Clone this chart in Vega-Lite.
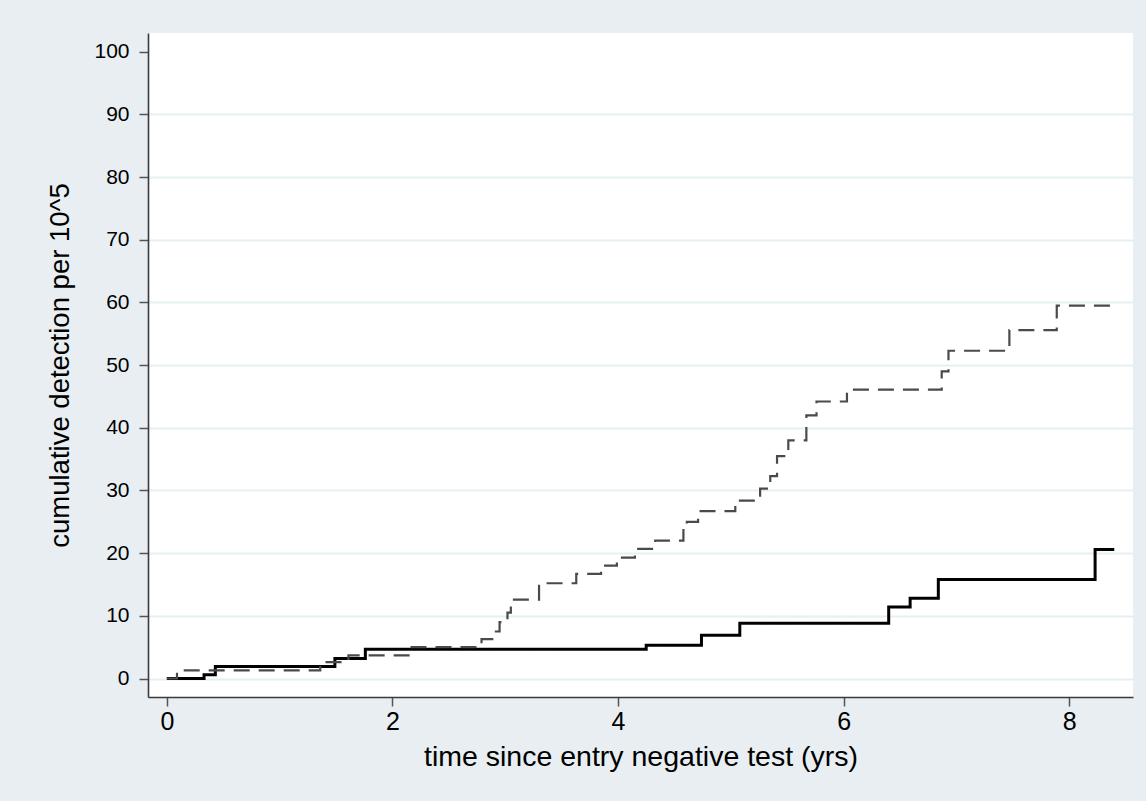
{
  "$schema": "https://vega.github.io/schema/vega-lite/v6.json",
  "autosize": {"type": "none"},
  "width": 985,
  "height": 664,
  "padding": {"left": 148, "top": 33, "right": 13, "bottom": 104},
  "background": "#e8eef1",
  "view": {"fill": "#ffffff", "stroke": null},
  "config": {
    "font": "Liberation Sans",
    "axis": {
      "labelFont": "Liberation Sans",
      "titleFont": "Liberation Sans",
      "labelColor": "#000000",
      "titleColor": "#000000",
      "titleFontWeight": "normal",
      "domainColor": "#3a3a3a",
      "domainWidth": 1.6,
      "tickColor": "#555555",
      "tickWidth": 1.5,
      "tickSize": 9
    }
  },
  "data": {
    "values": [
      {"series": "solid", "t": 0, "v": 0},
      {"series": "solid", "t": 0.33, "v": 0.6},
      {"series": "solid", "t": 0.43, "v": 1.9},
      {"series": "solid", "t": 1.49, "v": 3.2},
      {"series": "solid", "t": 1.76, "v": 4.66},
      {"series": "solid", "t": 4.25, "v": 5.3},
      {"series": "solid", "t": 4.74, "v": 6.9},
      {"series": "solid", "t": 5.08, "v": 8.8},
      {"series": "solid", "t": 6.40, "v": 11.4},
      {"series": "solid", "t": 6.59, "v": 12.8},
      {"series": "solid", "t": 6.84, "v": 15.8},
      {"series": "solid", "t": 8.23, "v": 20.6},
      {"series": "solid", "t": 8.40, "v": 20.6},
      {"series": "dashed", "t": 0, "v": 0},
      {"series": "dashed", "t": 0.09, "v": 1.3},
      {"series": "dashed", "t": 1.36, "v": 2.6},
      {"series": "dashed", "t": 1.61, "v": 3.7},
      {"series": "dashed", "t": 2.17, "v": 5.0},
      {"series": "dashed", "t": 2.79, "v": 6.3},
      {"series": "dashed", "t": 2.90, "v": 7.5},
      {"series": "dashed", "t": 2.95, "v": 9.0},
      {"series": "dashed", "t": 3.02, "v": 10.5},
      {"series": "dashed", "t": 3.05, "v": 12.6},
      {"series": "dashed", "t": 3.30, "v": 15.2},
      {"series": "dashed", "t": 3.63, "v": 16.7},
      {"series": "dashed", "t": 3.85, "v": 18.0},
      {"series": "dashed", "t": 3.99, "v": 19.3},
      {"series": "dashed", "t": 4.15, "v": 20.7},
      {"series": "dashed", "t": 4.33, "v": 22.0},
      {"series": "dashed", "t": 4.58, "v": 24.6},
      {"series": "dashed", "t": 4.61, "v": 25.0},
      {"series": "dashed", "t": 4.71, "v": 26.7},
      {"series": "dashed", "t": 5.04, "v": 28.4},
      {"series": "dashed", "t": 5.26, "v": 30.3},
      {"series": "dashed", "t": 5.35, "v": 32.3},
      {"series": "dashed", "t": 5.41, "v": 35.5},
      {"series": "dashed", "t": 5.51, "v": 38.0},
      {"series": "dashed", "t": 5.67, "v": 42.0},
      {"series": "dashed", "t": 5.76, "v": 44.2},
      {"series": "dashed", "t": 6.03, "v": 46.1},
      {"series": "dashed", "t": 6.87, "v": 49.0},
      {"series": "dashed", "t": 6.93, "v": 52.3},
      {"series": "dashed", "t": 7.47, "v": 55.6},
      {"series": "dashed", "t": 7.89, "v": 59.5},
      {"series": "dashed", "t": 8.40, "v": 59.5}
    ]
  },
  "mark": {"type": "line", "interpolate": "step-after", "clip": true},
  "encoding": {
    "x": {
      "field": "t",
      "type": "quantitative",
      "scale": {"domain": [-0.167, 8.566], "nice": false, "zero": false},
      "axis": {
        "values": [0, 2, 4, 6, 8],
        "grid": false,
        "labelFontSize": 25,
        "labelPadding": 3,
        "title": "time since entry negative test (yrs)",
        "titleFontSize": 28.5,
        "titleBaseline": "alphabetic",
        "titleY": 68
      }
    },
    "y": {
      "field": "v",
      "type": "quantitative",
      "scale": {"domain": [-2.95, 103], "nice": false, "zero": false},
      "axis": {
        "values": [0, 10, 20, 30, 40, 50, 60, 70, 80, 90, 100],
        "grid": true,
        "gridColor": "#e6eff2",
        "gridWidth": 2,
        "gridOpacity": {"condition": {"test": "datum.value == 100", "value": 0}, "value": 1},
        "labelFontSize": 21,
        "labelPadding": 10,
        "title": "cumulative detection per 10^5",
        "titleFontSize": 27.5,
        "titleAngle": -90,
        "titleBaseline": "alphabetic",
        "titleX": -80
      }
    },
    "color": {
      "field": "series",
      "type": "nominal",
      "scale": {"domain": ["dashed", "solid"], "range": ["#4a4a4a", "#000000"]},
      "legend": null
    },
    "strokeDash": {
      "field": "series",
      "type": "nominal",
      "scale": {"domain": ["dashed", "solid"], "range": [[16, 9], [1, 0]]},
      "legend": null
    },
    "strokeWidth": {
      "field": "series",
      "type": "nominal",
      "scale": {"domain": ["dashed", "solid"], "range": [2.2, 3]},
      "legend": null
    }
  }
}
